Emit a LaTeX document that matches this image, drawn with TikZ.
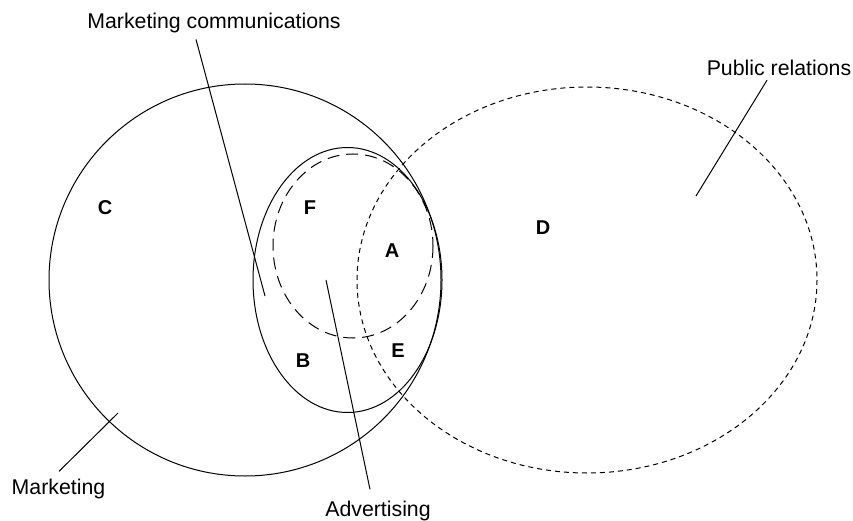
\documentclass[tikz,border=0pt]{standalone}
\usepackage{fontspec}
\setmainfont{Liberation Sans}
\begin{document}
\begin{tikzpicture}[x=1pt,y=-1pt,line width=1pt,
    lbl/.style={inner sep=0pt,anchor=base,font=\fontsize{21.3}{25}\selectfont},
    area/.style={inner sep=0pt,font=\fontsize{20}{24}\selectfont\bfseries},
    longdash/.style={dash pattern=on 12pt off 7pt},
    shortdash/.style={dash pattern=on 5pt off 4pt}]
  \useasboundingbox (0,0) rectangle (853,521);
  % the four sets
  \draw (245,280) circle[radius=196];
  \draw (347.5,280) ellipse[x radius=94.5,y radius=132.5];
  \draw[longdash] (353,246) ellipse[x radius=80,y radius=92];
  \draw[shortdash] (587,280) ellipse[x radius=230,y radius=193];
  % regions
  \draw
    (105,208) node[area] (regC){C}
    (310,208) node[area] (regF){F}
    (392,251) node[area] (regA){A}
    (543,228) node[area] (regD){D}
    (303,361) node[area] (regB){B}
    (398,351) node[area] (regE){E};
  % names of the sets
  \draw
    (214,28.5) node[lbl] (mcLabel){Marketing communications}
    (779,76) node[lbl] (prLabel){Public relations}
    (58.5,494.3) node[lbl] (mkLabel){Marketing}
    (378,516) node[lbl] (adLabel){Advertising};
  \coordinate (mcTip) at (265,296);
  \coordinate (prTip) at (696,196);
  \coordinate (mkTip) at (118,413);
  \coordinate (adTip) at (326,280);
  \begin{scope}[-]
    \draw ([shift={(-18,6)}]mcLabel.south) to (mcTip);
    \draw ([shift={(-12,3.5)}]prLabel.south) to (prTip);
    \draw ([shift={(0.5,-7)}]mkLabel.north) to (mkTip);
    \draw ([shift={(-8,-10.7)}]adLabel.north) to (adTip);
  \end{scope}
\end{tikzpicture}
\end{document}
